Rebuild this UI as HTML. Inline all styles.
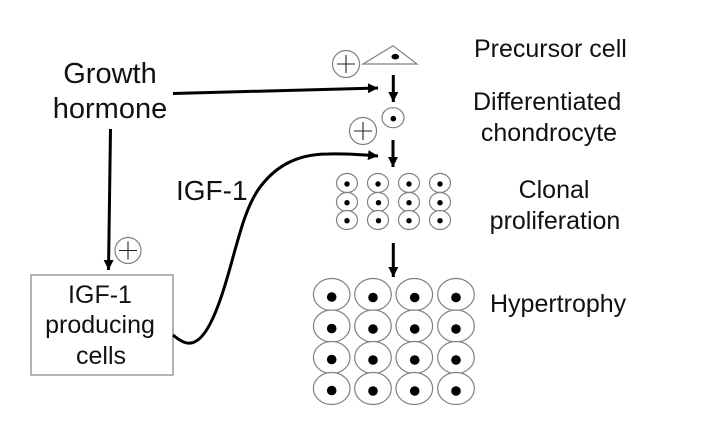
<!DOCTYPE html>
<html>
<head>
<meta charset="utf-8">
<style>
html,body{margin:0;padding:0;background:#fff;width:706px;height:422px;overflow:hidden}
svg{display:block}
text{font-family:"Liberation Sans",Arial,sans-serif;fill:#111}
.c{stroke:#808080;stroke-width:1.2;fill:#fff}
.a{stroke:#000;fill:none;stroke-width:3}
.p{stroke:#222;stroke-width:1.1;fill:none}
</style>
</head>
<body>
<svg width="706" height="422" viewBox="0 0 706 422" xmlns="http://www.w3.org/2000/svg">
<defs>
<marker id="ah" markerUnits="userSpaceOnUse" markerWidth="14" markerHeight="14" refX="10" refY="5" orient="auto">
<path d="M0,0L10,5L0,10L0,0Z" fill="#000"/>
</marker>
</defs>

<!-- Labels -->
<text x="110" y="83" font-size="29" text-anchor="middle">Growth</text>
<text x="110" y="118" font-size="29" text-anchor="middle">hormone</text>
<text x="176" y="200" font-size="28">IGF-1</text>
<text x="474" y="57" font-size="25">Precursor cell</text>
<text x="473" y="110" font-size="25">Differentiated</text>
<text x="549" y="141" font-size="25" text-anchor="middle">chondrocyte</text>
<text x="554" y="198" font-size="25" text-anchor="middle">Clonal</text>
<text x="555" y="229" font-size="25" text-anchor="middle">proliferation</text>
<text x="490" y="312" font-size="25">Hypertrophy</text>

<!-- Box -->
<rect x="31" y="275" width="142" height="100" fill="#fff" stroke="#808080" stroke-width="1.2"/>
<text x="100" y="303" font-size="25" text-anchor="middle">IGF-1</text>
<text x="100" y="333" font-size="25" text-anchor="middle">producing</text>
<text x="101" y="364" font-size="25" text-anchor="middle">cells</text>

<!-- Arrows -->
<path class="a" d="M173,93.500L378,88" marker-end="url(#ah)"/>
<path class="a" d="M110.500,129L108.500,270" marker-end="url(#ah)"/>
<path class="a" d="M393.300,75V102" marker-end="url(#ah)"/>
<path class="a" d="M393,140V167" marker-end="url(#ah)"/>
<path class="a" d="M393.300,243V277" marker-end="url(#ah)"/>
<path class="a" d="M173,335C180,341 186,344 191,343C205,341 217,315 230,268C240,232 246,208 258,190C274,167 296,154 328,154C345,153.500 360,154.500 378,156" marker-end="url(#ah)"/>

<!-- Plus circles -->
<circle class="c" cx="346" cy="64" r="13.500"/>
<path class="p" d="M337,64H355M346,55V73"/>
<circle class="c" cx="363" cy="131" r="13.500"/>
<path class="p" d="M354,131H372M363,122V140"/>
<circle class="c" cx="128" cy="250.500" r="13"/>
<path class="p" d="M119,250.500H137M128,241.500V259.500"/>

<!-- Precursor -->
<path d="M363,64L393,45.700L417,64Z" fill="#fff" stroke="#808080" stroke-width="1.2"/>
<ellipse cx="395.300" cy="56.700" rx="3.800" ry="2.800" fill="#000"/>

<!-- Differentiated -->
<ellipse class="c" cx="393" cy="117.700" rx="11" ry="10"/>
<circle cx="393.300" cy="118.700" r="2.800" fill="#000"/>

<!-- Clonal cells -->
<g>
<ellipse class="c" cx="347" cy="183" rx="10.500" ry="9.500"/><circle cx="347" cy="184" r="2.700"/>
<ellipse class="c" cx="378" cy="183" rx="10.500" ry="9.500"/><circle cx="378" cy="184" r="2.700"/>
<ellipse class="c" cx="409" cy="183" rx="10.500" ry="9.500"/><circle cx="409" cy="184" r="2.700"/>
<ellipse class="c" cx="440" cy="183" rx="10.500" ry="9.500"/><circle cx="440" cy="184" r="2.700"/>
<ellipse class="c" cx="347" cy="202" rx="10.500" ry="9.500"/><circle cx="347" cy="202.700" r="2.700"/>
<ellipse class="c" cx="378" cy="202" rx="10.500" ry="9.500"/><circle cx="378.500" cy="202.700" r="2.700"/>
<ellipse class="c" cx="409" cy="202" rx="10.500" ry="9.500"/><circle cx="409" cy="202.700" r="2.700"/>
<ellipse class="c" cx="440" cy="202" rx="10.500" ry="9.500"/><circle cx="440" cy="202.700" r="2.700"/>
<ellipse class="c" cx="347" cy="220" rx="10.500" ry="9.500"/><circle cx="347" cy="220.700" r="2.700"/>
<ellipse class="c" cx="378" cy="220" rx="10.500" ry="9.500"/><circle cx="378.500" cy="220.700" r="2.700"/>
<ellipse class="c" cx="409" cy="220" rx="10.500" ry="9.500"/><circle cx="409" cy="220.700" r="2.700"/>
<ellipse class="c" cx="440" cy="220" rx="10.500" ry="9.500"/><circle cx="440" cy="220.700" r="2.700"/>
</g>

<!-- Hypertrophy cells -->
<g>
<ellipse class="c" cx="331.700" cy="294.500" rx="18.300" ry="16"/><circle cx="331.700" cy="297" r="4.800"/>
<ellipse class="c" cx="373" cy="294.500" rx="18.300" ry="16"/><circle cx="373" cy="297.500" r="4.800"/>
<ellipse class="c" cx="414.300" cy="294.500" rx="18.300" ry="16"/><circle cx="414.700" cy="297.500" r="4.800"/>
<ellipse class="c" cx="456" cy="294.500" rx="18.300" ry="16"/><circle cx="456" cy="297.500" r="4.800"/>
<ellipse class="c" cx="331.700" cy="326" rx="18.300" ry="16"/><circle cx="331.700" cy="328.500" r="4.800"/>
<ellipse class="c" cx="373" cy="326" rx="18.300" ry="16"/><circle cx="373" cy="329" r="4.800"/>
<ellipse class="c" cx="414.300" cy="326" rx="18.300" ry="16"/><circle cx="414.700" cy="329" r="4.800"/>
<ellipse class="c" cx="456" cy="326" rx="18.300" ry="16"/><circle cx="456" cy="329" r="4.800"/>
<ellipse class="c" cx="331.700" cy="357.500" rx="18.300" ry="16"/><circle cx="331.700" cy="359.500" r="4.800"/>
<ellipse class="c" cx="373" cy="357.500" rx="18.300" ry="16"/><circle cx="373" cy="360" r="4.800"/>
<ellipse class="c" cx="414.300" cy="357.500" rx="18.300" ry="16"/><circle cx="414.700" cy="360" r="4.800"/>
<ellipse class="c" cx="456" cy="357.500" rx="18.300" ry="16"/><circle cx="456" cy="360" r="4.800"/>
<ellipse class="c" cx="331.700" cy="388.500" rx="18.300" ry="16"/><circle cx="331.700" cy="390.500" r="4.800"/>
<ellipse class="c" cx="373" cy="388.500" rx="18.300" ry="16"/><circle cx="373" cy="391" r="4.800"/>
<ellipse class="c" cx="414.300" cy="388.500" rx="18.300" ry="16"/><circle cx="414.700" cy="391" r="4.800"/>
<ellipse class="c" cx="456" cy="388.500" rx="18.300" ry="16"/><circle cx="456" cy="391" r="4.800"/>
</g>
</svg>
</body>
</html>
